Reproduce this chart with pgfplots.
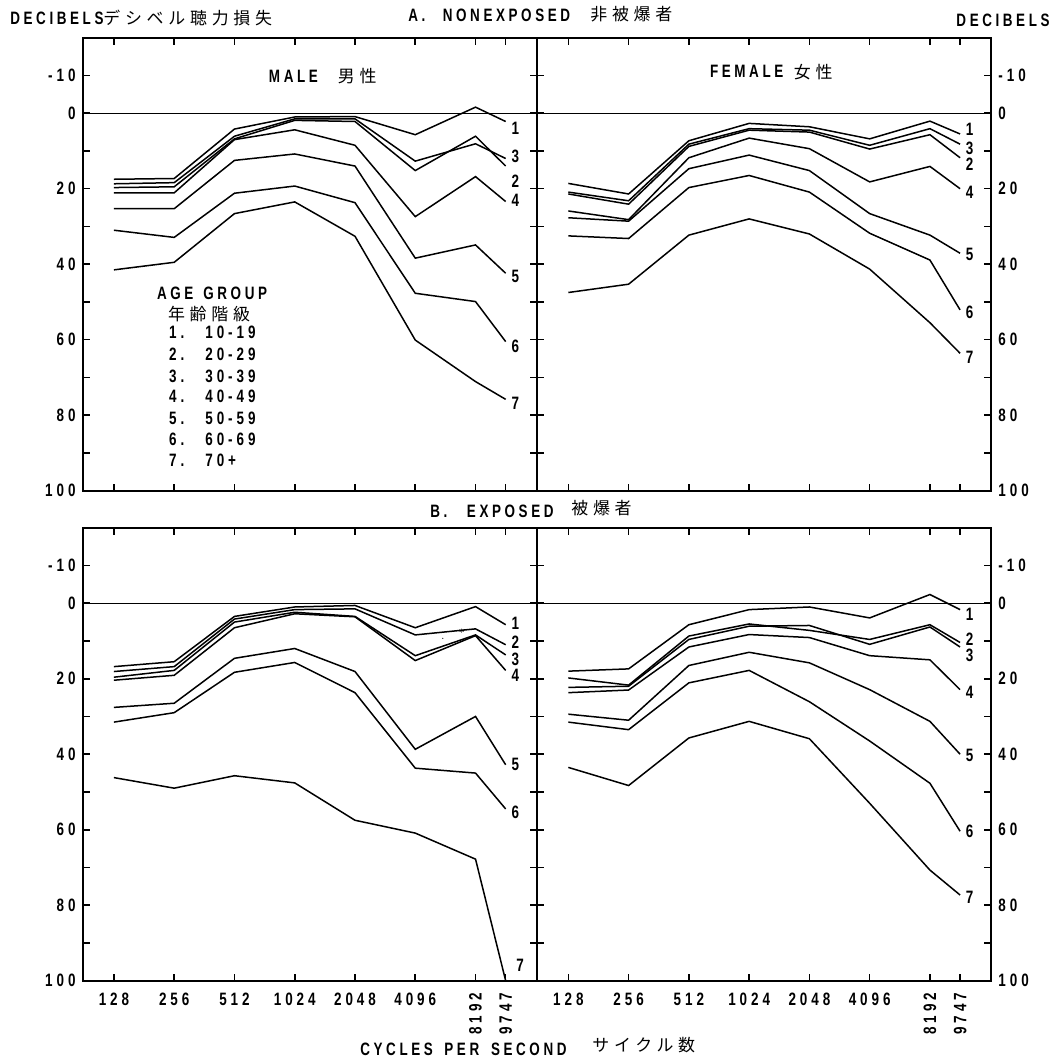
\documentclass[border=0pt]{standalone}
\usepackage{fontspec}
\usepackage{pgfplots}
\usepackage{pgfplotstable}
\pgfplotsset{compat=1.18}

\newfontfamily\numfont[FakeStretch=0.75,LetterSpace=22]{Liberation Sans}
\newfontfamily\txtfont[FakeStretch=0.75,LetterSpace=20]{Liberation Sans}
\newfontfamily\cjk[LetterSpace=28]{Noto Sans CJK JP}
\newcommand\nf{\numfont\bfseries\fontsize{9}{11}\selectfont}
\newcommand\tf{\txtfont\bfseries\fontsize{9}{11}\selectfont}
\newcommand\jf{\cjk\fontsize{8.5}{10}\selectfont}

% hearing level (dB) by frequency, one column per age group
% x: 0=128 1=256 2=512 3=1024 4=2048 5=4096 6=8192 6.5=9747
\pgfplotstableread{
x   s1   s2   s3   s4   s5   s6   s7
0   17.5 19.7 18.7 21.1 25.3 31.0 41.5
1   17.3 19.5 18.4 21.1 25.3 32.9 39.5
2   4.2  6.8  6.1  7.0  12.5 21.2 26.6
3   1.0  1.9  1.5  4.4  10.8 19.3 23.5
4   0.9  2.2  1.5  8.5  14.0 23.7 32.6
5   5.7  15.2 12.7 27.4 38.4 47.7 60.1
6   -1.6 6.1  8.1  16.8 34.9 49.9 71.1
6.5 2.2  14.0 12.0 23.4 42.4 60.5 75.8
}\mn
\pgfplotstableread{
x   s1   s2   s3   s4   s5   s6   s7
0   18.6 21.4 20.9 25.9 27.7 32.5 47.5
1   21.4 24.1 23.2 28.2 28.6 33.2 45.3
2   7.3  8.8  8.2  11.8 14.7 19.7 32.3
3   2.7  4.5  4.1  6.6  11.1 16.5 28.0
4   3.6  5.0  4.5  9.4  15.2 20.9 32.0
5   6.8  9.5  8.5  18.2 26.6 31.8 41.3
6   2.1  5.7  4.1  14.1 32.3 38.9 55.5
6.5 5.5  11.8 8.2  20.0 37.1 52.1 63.6
}\fn
\pgfplotstableread{
x   s1   s2   s3   s4   s5   s6   s7
0   16.8 18.1 19.6 20.4 27.6 31.5 46.2
1   15.5 16.8 17.8 19.1 26.5 29.0 49.0
2   3.5  4.2  5.0  6.5  14.6 18.3 45.7
3   1.0  1.7  2.4  2.8  12.0 15.7 47.6
4   0.6  1.5  3.5  3.6  18.1 23.7 57.5
5   6.5  8.4  13.9 15.2 38.7 43.7 60.9
6   0.9  6.8  8.4  8.6  30.0 45.0 67.8
6.5 5.7  11.0 13.7 17.8 42.8 54.5 100
}\me
\pgfplotstableread{
x   s1   s2   s3   s4   s5   s6   s7
0   18.0 19.8 22.3 23.7 29.4 31.5 43.5
1   17.4 21.7 22.0 23.0 31.0 33.5 48.3
2   5.7  8.7  9.6  11.6 16.5 21.1 35.7
3   1.7  5.5  6.1  8.3  13.0 17.8 31.3
4   1.0  7.2  5.9  9.1  15.8 26.1 35.9
5   3.9  9.6  10.9 13.9 22.9 36.5 53.0
6   -2.3 5.7  6.3  15.0 31.3 47.7 70.7
6.5 1.7  10.4 11.6 22.9 40.0 60.4 77.3
}\fe

\pgfplotsset{
  hear/.style={
    width=227.2bp, height=226.5bp, scale only axis, anchor=center,
    xmin=-0.52, xmax=7.02, ymin=-20, ymax=100, y dir=reverse,
    axis line style={line width=1bp},
    tick align=inside, major tick length=3.5bp,
    tick style={black, line width=0.8bp},
    xtick={0,...,5}, extra x ticks={6,6.5},
    ytick={-10,0,...,100},
    yticklabels={-10,0,,20,,40,,60,,80,,100},
    extra y ticks={0}, extra y tick labels={},
    extra y tick style={grid=major, major grid style={black, line width=0.5bp}},
    tick label style={font=\nf},
    xtick pos=both, ytick pos=both,
    clip=false,
  },
  notx/.style={xticklabels={}, extra x tick labels={}},
  withx/.style={
    xticklabels={128,256,512,1024,2048,4096},
    xticklabel style={yshift=-2.5bp},
    extra x tick labels={8192,9747},
    extra x tick style={xticklabel style={rotate=90, anchor=east, yshift=0bp}},
  },
  ln/.style={black, line width=0.75bp, mark=none},
}
\newcommand\lab[3][6.66]{\node[font=\nf, inner sep=0] at (axis cs:#1,#3) {#2};}
\newcommand\curves[1]{\pgfplotsinvokeforeach{1,...,7}{\addplot[ln] table[x=x, y=s##1] {#1};}}

\begin{document}
\begin{tikzpicture}
\path[use as bounding box] (0,0) rectangle (528bp,530.5bp);

% A. nonexposed, male
\begin{axis}[hear, notx, at={(154.9bp,398.4bp)}, yticklabel pos=left]
\curves{\mn}
\lab{1}{4.0} \lab{3}{11.5} \lab{2}{18.1} \lab{4}{23.0}
\lab{5}{43.3} \lab{6}{61.8} \lab{7}{76.9}
\end{axis}

% A. nonexposed, female
\begin{axis}[hear, notx, at={(382.1bp,398.4bp)}, yticklabel pos=right]
\curves{\fn}
\lab{1}{4.4} \lab{3}{9.3} \lab{2}{13.6} \lab{4}{20.9}
\lab{5}{37.4} \lab{6}{52.8} \lab{7}{64.8}
\end{axis}

% B. exposed, male
\begin{axis}[hear, withx, at={(154.9bp,153.4bp)}, yticklabel pos=left]
\curves{\me}
\lab{1}{5.2} \lab{2}{10.4} \lab{3}{14.8} \lab{4}{19.1}
\lab{5}{42.6} \lab{6}{55.3} \lab[6.74]{7}{95.9}
\node[inner sep=0, font=\tiny] at (axis cs:5.77,7.8) {*};
\node[inner sep=0, font=\tiny] at (axis cs:5.46,9.5) {.};
\end{axis}

% B. exposed, female
\begin{axis}[hear, withx, at={(382.1bp,153.4bp)}, yticklabel pos=right]
\curves{\fe}
\lab{1}{3.0} \lab{2}{9.6} \lab{3}{13.9} \lab{4}{23.5}
\lab{5}{40.4} \lab{6}{60.4} \lab{7}{78.0}
\end{axis}

% titles and notes, placed in pixel units from the top left corner
\begin{scope}[x=0.5bp, y=-0.5bp, yshift=530.5bp, every node/.style={inner sep=0}]
\node[anchor=west] at (10,18.3) {\tf DECIBELS};
\node[anchor=west] at (103,18.3) {\jf デシベル聴力損失};
\node[anchor=west] at (408,15) {\tf A.};
\node[anchor=west] at (442.5,15) {\tf NONEXPOSED};
\node[anchor=west] at (590,14) {\jf 非被爆者};
\node[anchor=east] at (1050,20) {\tf DECIBELS};
\node[anchor=west] at (268.6,76) {\tf MALE};
\node[anchor=west] at (337.5,76) {\jf 男性};
\node[anchor=west] at (709.7,71.7) {\tf FEMALE};
\node[anchor=west] at (793.5,71.7) {\jf 女性};
\node[anchor=west] at (156.7,293.3) {\tf AGE};
\node[anchor=west] at (203,293.3) {\tf GROUP};
\node at (209,314) {\jf 年齢階級};
\foreach \n/\r/\y in {1/10-19/332.7, 2/20-29/354.3, 3/30-39/376, 4/40-49/396.7,
                     5/50-59/418.3, 6/60-69/439.3, 7/70+/460}{
  \node[anchor=west] at (168.7,\y) {\nf \n.};
  \node[anchor=west] at (205,\y) {\nf \r};
}
\node[anchor=west] at (430,511.7) {\tf B.};
\node[anchor=west] at (466.6,511.7) {\tf EXPOSED};
\node[anchor=west] at (571,508.3) {\jf 被爆者};
\node[anchor=west] at (360,1049) {\tf CYCLES};
\node[anchor=west] at (444,1049) {\tf PER};
\node[anchor=west] at (490.7,1049) {\tf SECOND};
\node[anchor=west] at (592,1045) {\jf サイクル数};
\end{scope}
\end{tikzpicture}
\end{document}
